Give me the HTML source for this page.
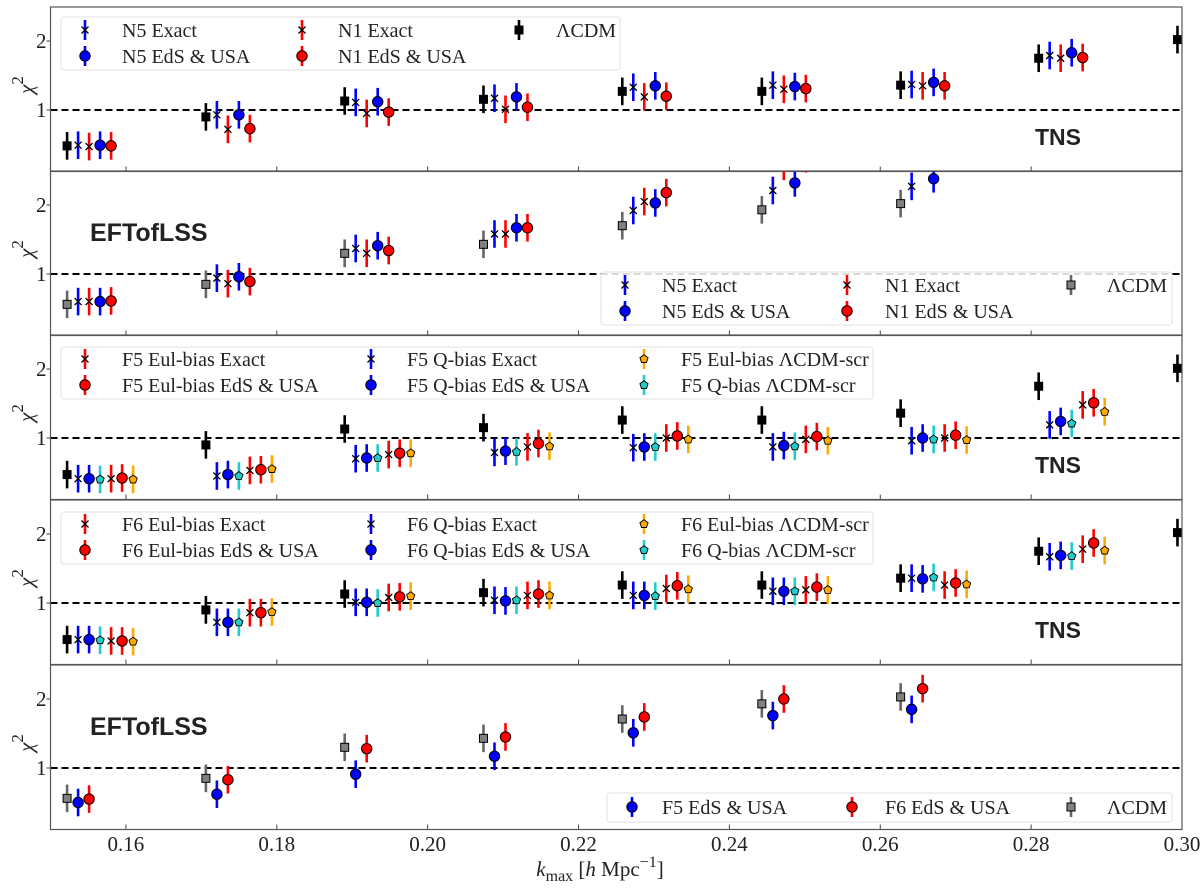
<!DOCTYPE html>
<html><head><meta charset="utf-8"><style>
html,body{margin:0;padding:0;background:#fff;}
svg{display:block;}
.tick{font-family:"Liberation Serif",serif;font-size:21px;fill:#222;}
.leg{font-family:"Liberation Serif",serif;font-size:20px;fill:#222;}
.ann{font-family:"Liberation Sans",sans-serif;font-weight:bold;fill:#222;}
</style></head><body>
<svg id="chart" width="1200" height="889" viewBox="0 0 1200 889" xmlns="http://www.w3.org/2000/svg"></svg>
<script>
// ---- data ----
const kGroups = [0.1522,0.1706,0.1890,0.2074,0.2258,0.2443,0.2627,0.2810,0.2994];
const yTicks = [1,2];
const xTicks = [0.16,0.18,0.20,0.22,0.24,0.26,0.28,0.30];
const xTickLabels = ["0.16","0.18","0.20","0.22","0.24","0.26","0.28","0.30"];
const errHalf = 0.2;
// panel 1 (TNS, N-series)
const p1LCDM = [0.48,0.90,1.13,1.155,1.27,1.27,1.36,1.75,2.02];
const p1N5Exact = [0.49,0.93,1.11,1.17,1.33,1.36,1.37,1.79];
const p1N1Exact = [0.47,0.72,0.95,1.01,1.19,1.30,1.35,1.75];
const p1N5EdS = [0.49,0.93,1.12,1.19,1.35,1.34,1.40,1.83];
const p1N1EdS = [0.48,0.73,0.97,1.04,1.20,1.31,1.35,1.76];
// panel 2 (EFTofLSS, N-series)
const p2LCDM = [0.56,0.85,1.30,1.43,1.70,1.93,2.02];
const p2N5Exact = [0.60,0.94,1.37,1.58,1.92,2.21,2.27];
const p2N1Exact = [0.60,0.86,1.30,1.58,2.05,2.56,2.70];
const p2N5EdS = [0.60,0.96,1.41,1.67,2.03,2.32,2.38];
const p2N1EdS = [0.61,0.89,1.34,1.67,2.18,2.67,2.85];
// panel 3 (TNS, F5)
const p3LCDM = [0.47,0.90,1.13,1.15,1.26,1.26,1.36,1.75,2.01];
const p3QExact = [0.41,0.45,0.70,0.79,0.86,0.87,0.96,1.19];
const p3QEdS = [0.41,0.47,0.71,0.81,0.87,0.89,1.00,1.24];
const p3QScr = [0.40,0.45,0.71,0.80,0.87,0.88,0.98,1.21];
const p3EulExact = [0.41,0.53,0.76,0.87,1.00,0.98,1.00,1.48];
const p3EulEdS = [0.42,0.54,0.78,0.92,1.03,1.02,1.04,1.51];
const p3EulScr = [0.40,0.55,0.78,0.88,0.98,0.96,0.97,1.38];
// panel 4 (TNS, F6)
const p4LCDM = [0.47,0.90,1.13,1.15,1.26,1.26,1.36,1.75,2.02];
const p4QExact = [0.47,0.72,1.01,1.04,1.11,1.17,1.36,1.67];
const p4QEdS = [0.47,0.72,1.01,1.03,1.11,1.17,1.35,1.69];
const p4QScr = [0.46,0.72,1.00,1.04,1.10,1.17,1.37,1.68];
const p4EulExact = [0.45,0.86,1.08,1.11,1.21,1.19,1.26,1.78];
const p4EulEdS = [0.45,0.86,1.09,1.13,1.25,1.23,1.29,1.87];
const p4EulScr = [0.44,0.87,1.10,1.11,1.20,1.19,1.27,1.76];
// panel 5 (EFTofLSS, F5/F6)
const p5LCDM = [0.56,0.85,1.30,1.43,1.71,1.93,2.03];
const p5F5EdS = [0.50,0.62,0.91,1.17,1.51,1.76,1.85];
const p5F6EdS = [0.55,0.83,1.28,1.45,1.74,2.00,2.15];

// ---- geometry ----
const NS = "http://www.w3.org/2000/svg";
const svg = document.getElementById('chart');
const X0 = 50.5, X1 = 1182, KMIN = 0.15, KMAX = 0.30;
const panelTops = [7,171,335,500,665];
const PH = 164.5, Y1OFF = 103, PPU = 69;
const DK = 11 / ((X1 - X0) / (KMAX - KMIN));
function xs(k){ return X0 + (k - KMIN) / (KMAX - KMIN) * (X1 - X0); }
function ys(p, v){ return panelTops[p] + Y1OFF - (v - 1) * PPU; }
function mk(tag, attrs, parent){
  const e = document.createElementNS(NS, tag);
  for (const a in attrs) e.setAttribute(a, attrs[a]);
  (parent || svg).appendChild(e);
  return e;
}
function marker(g, type, x, y, color){
  if (type === 'square') {
    mk('rect', {x:x-4, y:y-4, width:8, height:8, fill:color, stroke:'#000', 'stroke-width':1}, g);
  } else if (type === 'x') {
    mk('path', {d:`M${x-3.5},${y-3.5}L${x+3.5},${y+3.5}M${x-3.5},${y+3.5}L${x+3.5},${y-3.5}`, stroke:'#000', 'stroke-width':1.3, fill:'none'}, g);
  } else if (type === 'circle') {
    mk('circle', {cx:x, cy:y, r:5.2, fill:color, stroke:'#000', 'stroke-width':1}, g);
  } else if (type === 'pent') {
    let pts = [];
    for (let i = 0; i < 5; i++) { const a = -Math.PI/2 + i*2*Math.PI/5; pts.push((x+4.3*Math.cos(a)).toFixed(1)+','+(y+4.3*Math.sin(a)).toFixed(1)); }
    mk('polygon', {points:pts.join(' '), fill:color, stroke:'#000', 'stroke-width':0.9}, g);
  }
}
function errColor(s){ return s.bar || s.color; }

const defs = mk('defs', {});
panelTops.forEach((t, i) => {
  const cp = mk('clipPath', {id:'clip'+i}, defs);
  mk('rect', {x:X0, y:t, width:X1-X0, height:PH}, cp);
});

const panels = [
  {series:[
    {name:'lcdm', vals:p1LCDM, color:'#000', bar:'#000', m:'square', off:0},
    {name:'n5-exact', vals:p1N5Exact, color:'#000', bar:'#0000ff', m:'x', off:1},
    {name:'n1-exact', vals:p1N1Exact, color:'#000', bar:'#ff0000', m:'x', off:2},
    {name:'n5-eds-usa', vals:p1N5EdS, color:'#0000ff', m:'circle', off:3},
    {name:'n1-eds-usa', vals:p1N1EdS, color:'#ff0000', m:'circle', off:4}], ann:'TNS'},
  {series:[
    {name:'lcdm', vals:p2LCDM, color:'#808080', bar:'#666', m:'square', off:0},
    {name:'n5-exact', vals:p2N5Exact, color:'#000', bar:'#0000ff', m:'x', off:1},
    {name:'n1-exact', vals:p2N1Exact, color:'#000', bar:'#ff0000', m:'x', off:2},
    {name:'n5-eds-usa', vals:p2N5EdS, color:'#0000ff', m:'circle', off:3},
    {name:'n1-eds-usa', vals:p2N1EdS, color:'#ff0000', m:'circle', off:4}], ann:'EFT'},
  {series:[
    {name:'lcdm', vals:p3LCDM, color:'#000', bar:'#000', m:'square', off:0},
    {name:'f5-qbias-exact', vals:p3QExact, color:'#000', bar:'#0000ff', m:'x', off:1},
    {name:'f5-qbias-eds-usa', vals:p3QEdS, color:'#0000ff', m:'circle', off:2},
    {name:'f5-qbias-lcdm-scr', vals:p3QScr, color:'#22cccc', m:'pent', off:3},
    {name:'f5-eulbias-exact', vals:p3EulExact, color:'#000', bar:'#ff0000', m:'x', off:4},
    {name:'f5-eulbias-eds-usa', vals:p3EulEdS, color:'#ff0000', m:'circle', off:5},
    {name:'f5-eulbias-lcdm-scr', vals:p3EulScr, color:'#ffaa00', m:'pent', off:6}], ann:'TNS'},
  {series:[
    {name:'lcdm', vals:p4LCDM, color:'#000', bar:'#000', m:'square', off:0},
    {name:'f6-qbias-exact', vals:p4QExact, color:'#000', bar:'#0000ff', m:'x', off:1},
    {name:'f6-qbias-eds-usa', vals:p4QEdS, color:'#0000ff', m:'circle', off:2},
    {name:'f6-qbias-lcdm-scr', vals:p4QScr, color:'#22cccc', m:'pent', off:3},
    {name:'f6-eulbias-exact', vals:p4EulExact, color:'#000', bar:'#ff0000', m:'x', off:4},
    {name:'f6-eulbias-eds-usa', vals:p4EulEdS, color:'#ff0000', m:'circle', off:5},
    {name:'f6-eulbias-lcdm-scr', vals:p4EulScr, color:'#ffaa00', m:'pent', off:6}], ann:'TNS'},
  {series:[
    {name:'lcdm', vals:p5LCDM, color:'#808080', bar:'#666', m:'square', off:0},
    {name:'f5-eds-usa', vals:p5F5EdS, color:'#0000ff', m:'circle', off:1},
    {name:'f6-eds-usa', vals:p5F6EdS, color:'#ff0000', m:'circle', off:2}], ann:'EFT'}
];

panels.forEach((P, pi) => {
  const t = panelTops[pi];
  const pg = mk('g', {});
  
  
  const dl = mk('line', {x1:X0, x2:X1, y1:ys(pi,1), y2:ys(pi,1), stroke:'#000', 'stroke-width':2, 'stroke-dasharray':'7,4'}, pg);
  
  
  yTicks.forEach(v => {
    mk('line', {x1:X0-4, x2:X0, y1:ys(pi,v), y2:ys(pi,v), stroke:'#444', 'stroke-width':1}, pg);
    const tl = mk('text', {x:X0-4, y:ys(pi,v)+7, 'text-anchor':'end', class:'tick', 'font-size':'22'}, pg);
    tl.textContent = v;
    
    
  });
  xTicks.forEach(k => {
    mk('line', {x1:xs(k), x2:xs(k), y1:t+PH, y2:t+PH-5, stroke:'#444', 'stroke-width':1}, pg);
  });
  const yl = mk('text', {x:0, y:0, transform:`translate(33,${t+78}) rotate(-90)`, 'text-anchor':'middle', class:'tick', 'font-style':'italic', 'font-size':'26'}, pg);
  yl.innerHTML = 'χ<tspan dy="-10" font-size="17" font-style="normal">2</tspan>';
  
  
  const cg = mk('g', {'clip-path':`url(#clip${pi})`}, pg);
  P.series.forEach(s => {
    const sg = mk('g', {}, cg);
    
    
    s.vals.forEach((v, i) => {
      const x = xs(kGroups[i] + s.off * DK), y = ys(pi, v);
      const eb = mk('line', {x1:x, x2:x, y1:ys(pi, v+errHalf), y2:ys(pi, v-errHalf), stroke:errColor(s), 'stroke-width':2.6}, sg);
      
      
      marker(sg, s.m, x, y, s.color);
    });
  });
  let an;
  if (P.ann === 'TNS') { an = mk('text', {x:1058, y:t+138, 'text-anchor':'middle', class:'ann', 'font-size':'23'}, pg); an.textContent = 'TNS'; }
  else { an = mk('text', {x:90, y:t+70, class:'ann', 'font-size':'25'}, pg); an.textContent = 'EFTofLSS'; }
  
  
  mk('rect', {x:X0, y:t, width:X1-X0, height:PH, fill:'none', stroke:'#555', 'stroke-width':1.2}, pg);
});

function legend(name, box, items){
  const g = mk('g', {});
  
  
  mk('rect', {x:box[0], y:box[1], width:box[2], height:box[3], rx:3, fill:'#fff', 'fill-opacity':0.85, stroke:'#e2e2e2', 'stroke-width':1}, g);
  items.forEach(it => {
    const eg = mk('g', {}, g);
    
    
    mk('line', {x1:it.mx, x2:it.mx, y1:it.y-10, y2:it.y+10, stroke:it.bar || it.color, 'stroke-width':2.6}, eg);
    marker(eg, it.m, it.mx, it.y, it.color);
    const tx = mk('text', {x:it.tx, y:it.y+7, class:'leg'}, eg);
    tx.textContent = it.label;
  });
}
const BL='#0000ff', RD='#ff0000', CY='#22cccc', OR='#ffaa00';
legend('legend-panel-1', [61,17,559,53], [
  {mx:85,tx:122,y:30,m:'x',color:'#000',bar:BL,label:'N5 Exact'},
  {mx:85,tx:122,y:56,m:'circle',color:BL,label:'N5 EdS & USA'},
  {mx:302,tx:338,y:30,m:'x',color:'#000',bar:RD,label:'N1 Exact'},
  {mx:302,tx:338,y:56,m:'circle',color:RD,label:'N1 EdS & USA'},
  {mx:519,tx:556,y:30,m:'square',color:'#000',bar:'#000',label:'ΛCDM'}]);
legend('legend-panel-2', [601,272,571,53], [
  {mx:625,tx:662,y:285,m:'x',color:'#000',bar:BL,label:'N5 Exact'},
  {mx:625,tx:662,y:311,m:'circle',color:BL,label:'N5 EdS & USA'},
  {mx:847,tx:885,y:285,m:'x',color:'#000',bar:RD,label:'N1 Exact'},
  {mx:847,tx:885,y:311,m:'circle',color:RD,label:'N1 EdS & USA'},
  {mx:1071,tx:1107,y:285,m:'square',color:'#808080',bar:'#666',label:'ΛCDM'}]);
function fLegend(name, y0, F){
  legend(name, [61,y0,812,52], [
    {mx:85,tx:122,y:y0+12,m:'x',color:'#000',bar:RD,label:F+' Eul-bias Exact'},
    {mx:85,tx:122,y:y0+38,m:'circle',color:RD,label:F+' Eul-bias EdS & USA'},
    {mx:371,tx:407,y:y0+12,m:'x',color:'#000',bar:BL,label:F+' Q-bias Exact'},
    {mx:371,tx:407,y:y0+38,m:'circle',color:BL,label:F+' Q-bias EdS & USA'},
    {mx:644,tx:681,y:y0+12,m:'pent',color:OR,label:F+' Eul-bias ΛCDM-scr'},
    {mx:644,tx:681,y:y0+38,m:'pent',color:CY,label:F+' Q-bias ΛCDM-scr'}]);
}
fLegend('legend-panel-3', 347, 'F5');
fLegend('legend-panel-4', 512, 'F6');
legend('legend-panel-5', [607,793,565,29], [
  {mx:632,tx:662,y:807,m:'circle',color:BL,label:'F5 EdS & USA'},
  {mx:852,tx:885,y:807,m:'circle',color:RD,label:'F6 EdS & USA'},
  {mx:1071,tx:1107,y:807,m:'square',color:'#808080',bar:'#666',label:'ΛCDM'}]);

xTicks.forEach((k, i) => {
  const tl = mk('text', {x:xs(k), y:851, 'text-anchor':'middle', class:'tick'});
  tl.textContent = xTickLabels[i];
  
  
});
const xl = mk('text', {x:600, y:876, 'text-anchor':'middle', class:'tick', 'font-size':'25'});
xl.innerHTML = '<tspan font-style="italic">k</tspan><tspan font-size="16" dy="5">max</tspan><tspan dy="-5"> [</tspan><tspan font-style="italic">h</tspan> Mpc<tspan font-size="16" dy="-9">−1</tspan><tspan dy="9">]</tspan>';


</script>
</body></html>
